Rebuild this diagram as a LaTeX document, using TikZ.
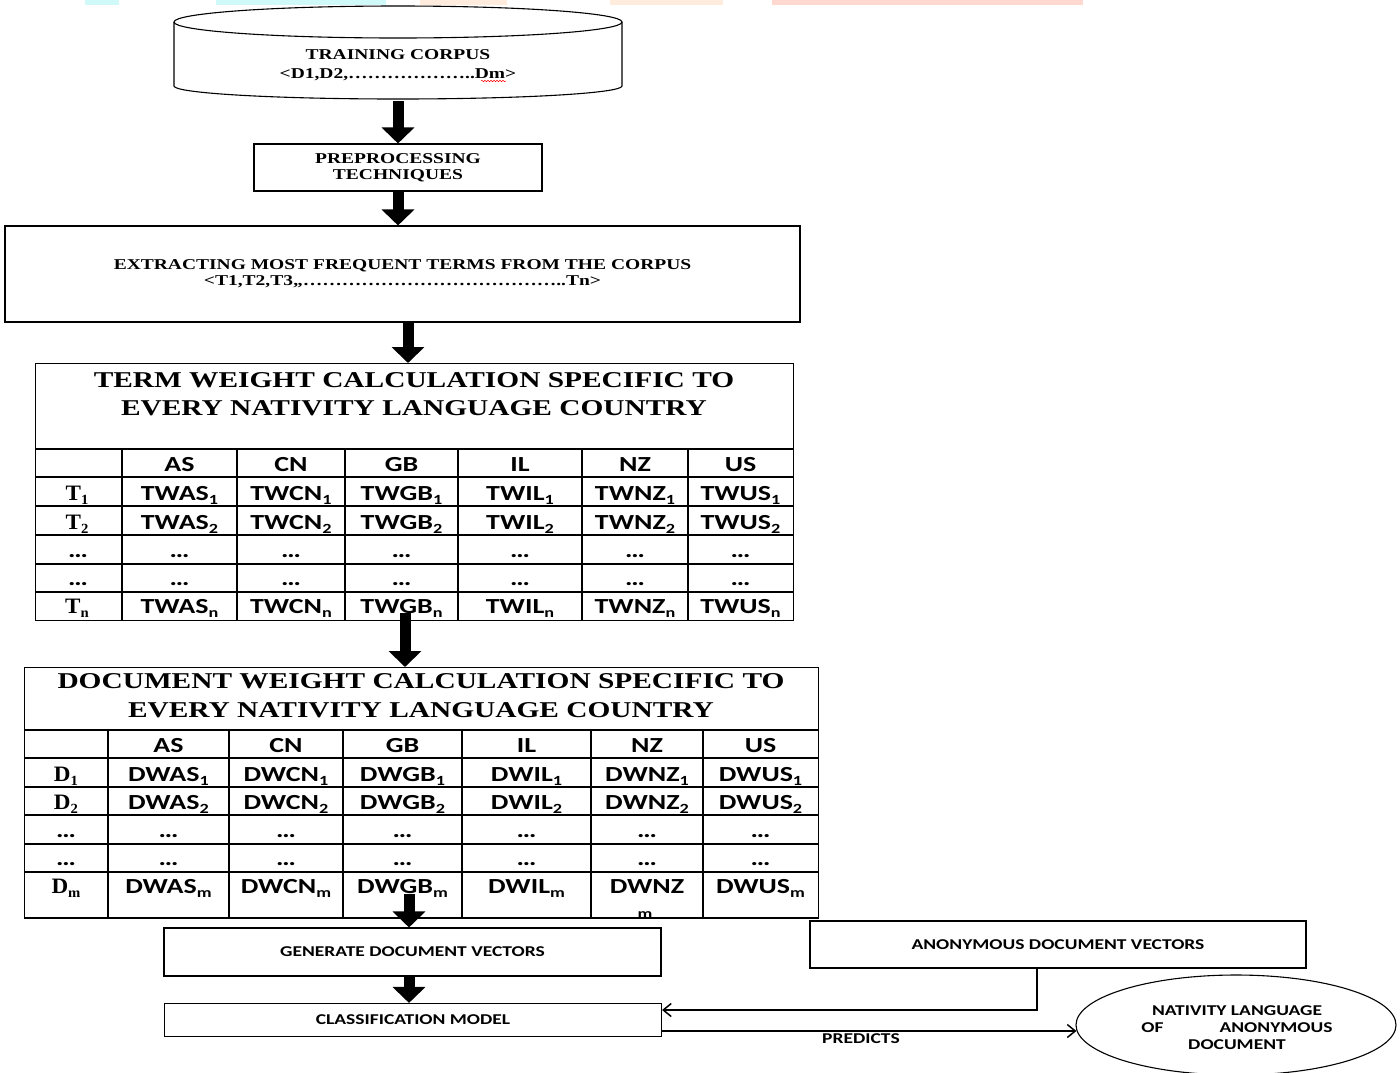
\documentclass[tikz,border=0pt]{standalone}
\usepackage{fontspec}
\setmainfont{Liberation Serif}[FakeStretch=1.3]
\newfontfamily\calf{Carlito}[FakeStretch=1.3]
\newfontfamily\rowf{Liberation Serif}[FakeStretch=1.05]
\usetikzlibrary{arrows.meta,shapes.geometric,decorations.pathmorphing,calc}
\definecolor{wmc}{RGB}{208,250,250}
\definecolor{wmp}{RGB}{255,236,220}
\definecolor{wmr}{RGB}{255,216,208}
\newcommand\sbs[1]{\raisebox{-4pt}{\fontsize{14}{14}\selectfont #1}}
\tikzset{
  box/.style={draw, line width=1.1pt, inner sep=0pt, rectangle, align=center},
  serif/.style={font=\bfseries\fontsize{15}{16}\selectfont},
  calibri/.style={font=\calf\bfseries\fontsize{15}{17}\selectfont},
  bigarrow/.style={line width=11pt, -{Triangle[width=32pt,length=16pt]}},
  conn/.style={line width=1.5pt},
  tline/.style={line width=1.1pt},
  cell/.style={font=\calf\bfseries\fontsize{21.5}{22}\selectfont, anchor=base, inner sep=0pt},
  rowlab/.style={font=\rowf\bfseries\fontsize{22}{22}\selectfont, anchor=base, inner sep=0pt},
  ttitle/.style={font=\bfseries\fontsize{22.6}{28}\selectfont, anchor=base, inner sep=0pt},
  plain/.style={anchor=base, inner sep=0pt},
}
\begin{document}
\begin{tikzpicture}[x=1pt,y=-1pt]
\useasboundingbox (0,0) rectangle (1400,1072);
% faint coloured bars along the top edge
\fill[wmc] (85,0) rectangle (119,5);
\fill[wmc] (216,0) rectangle (386,5);
\fill[wmp] (420,0) rectangle (507,5);
\fill[wmp] (610,0) rectangle (723,5);
\fill[wmr] (772,0) rectangle (1083,5);

% ---------- training corpus (cylinder)
\node (corpus) [minimum width=448pt, minimum height=95pt, inner sep=0pt] at (398,53.5) {};
\draw[line width=1.1pt] (398,22) ellipse [x radius=224pt, y radius=16pt];
\draw[line width=1.1pt] (174,22) -- (174,86) arc[start angle=180, end angle=360, x radius=224pt, y radius=13pt] -- (622,22);
\node (corpusA) [serif, plain] at (398,59) {TRAINING CORPUS};
\node (corpusB) [serif, plain] at (398,78) {<D1,D2,……………\ldots..Dm>};
\draw[red, line width=0.5pt, decorate, decoration={snake, amplitude=0.7pt, segment length=3pt}] (481,81) -- (506,81);

% ---------- preprocessing
\node (prep) [box, serif, minimum width=288pt, minimum height=47pt] at (398,167.5) {PREPROCESSING\\TECHNIQUES};

% ---------- extracting
\node (extract) [box, serif, minimum width=795pt, minimum height=96pt] at (402.5,274) {EXTRACTING MOST FREQUENT TERMS FROM THE CORPUS\\<T1,T2,T3,,…………………………………..Tn>};

% ---------- table 1
\node (tab1) [box, anchor=north west, minimum width=758pt, minimum height=257pt] at (35,363) {};
\foreach \y in {449,477,506,535,564,592} \draw[tline] (35,\y) -- (793,\y);
\foreach \x in {122,237,345,458,582,688} \draw[tline] (\x,449) -- (\x,620);
\node (t1titleA) [ttitle] at (414,387) {TERM WEIGHT CALCULATION SPECIFIC TO};
\node (t1titleB) [ttitle] at (414,415) {EVERY NATIVITY LANGUAGE COUNTRY};
\def\tcols{AS/179.5,CN/291,GB/401.5,IL/520,NZ/635,US/740.5}
\foreach \c/\x in \tcols \node (t1h\c) [cell] at (\x,471) {\c};
\foreach \r/\y in {1/500,2/529,n/613} {
  \node (t1r\r) [rowlab] at (77,\y) {T\sbs{\r}};
  \foreach \c/\x in \tcols \node (t1\c\r) [cell] at (\x,\y) {TW\c\sbs{\r}};
}
\foreach \y [count=\k] in {557,585} {
  \node (t1d\k) [cell] at (78,\y) {…};
  \foreach \c/\x in \tcols \node (t1d\k\c) [cell] at (\x,\y) {…};
}

% ---------- table 2
\node (tab2) [box, anchor=north west, minimum width=794pt, minimum height=251pt] at (24,667) {};
\foreach \y in {730,758,787,815,844,872} \draw[tline] (24,\y) -- (818,\y);
\foreach \x in {108,229,343,462,591,703} \draw[tline] (\x,730) -- (\x,918);
\node (t2titleA) [ttitle] at (421,688) {DOCUMENT WEIGHT CALCULATION SPECIFIC TO};
\node (t2titleB) [ttitle] at (421,717) {EVERY NATIVITY LANGUAGE COUNTRY};
\def\dcols{AS/168.5,CN/286,GB/402.5,IL/526.5,NZ/647,US/760.5}
\foreach \c/\x in \dcols \node (t2h\c) [cell] at (\x,752) {\c};
\foreach \r/\y in {1/781,2/809} {
  \node (t2r\r) [rowlab] at (66,\y) {D\sbs{\r}};
  \foreach \c/\x in \dcols \node (t2\c\r) [cell] at (\x,\y) {DW\c\sbs{\r}};
}
\foreach \y [count=\k] in {837,865} {
  \node (t2d\k) [cell] at (66,\y) {…};
  \foreach \c/\x in \dcols \node (t2d\k\c) [cell] at (\x,\y) {…};
}
\node (t2rm) [rowlab] at (66,893) {D\sbs{m}};
\foreach \c/\x in {AS/168.5,CN/286,GB/402.5,IL/526.5,US/760.5} \node (t2\c m) [cell] at (\x,893) {DW\c\sbs{m}};
\node (t2NZm) [cell] at (647,893) {DWNZ};
\node (t2NZmsub) [cell, font=\calf\bfseries\fontsize{14}{14}\selectfont] at (645,918) {m};
\draw[tline] (24,918) -- (818,918);

% ---------- bottom boxes
\node (gen) [box, calibri, minimum width=497pt, minimum height=48pt] at (412.5,952) {GENERATE DOCUMENT VECTORS};
\node (class) [box, calibri, minimum width=497pt, minimum height=33pt] at (413,1020) {CLASSIFICATION MODEL};
\node (anon) [box, calibri, minimum width=496pt, minimum height=47pt] at (1058,944.5) {ANONYMOUS DOCUMENT VECTORS};
\node (nat) [draw, ellipse, line width=1.1pt, minimum width=320pt, minimum height=100pt] at (1236,1025) {};
\node (natT) [calibri, align=center, inner sep=0pt] at (1237,1028)
  {NATIVITY LANGUAGE\\OF\hspace{56pt}ANONYMOUS\\DOCUMENT};

% ---------- block arrows
\coordinate (ax3) at (408,0);
\coordinate (ax4) at (405,0);
\coordinate (ax5) at (409,0);
\draw[bigarrow] (corpus.south) -- (prep.north);
\draw[bigarrow] (prep.south) -- (prep.south |- extract.north);
\draw[bigarrow] (extract.south -| ax3) -- (tab1.north -| ax3);
\draw[bigarrow] ($(tab1.south -| ax4)+(0,-8)$) -- (tab2.north -| ax4);
\draw[bigarrow] ($(tab2.south -| ax5)+(0,-25)$) -- (gen.north -| ax5);
\draw[bigarrow] (gen.south -| ax5) -- (class.north -| ax5);

% ---------- thin connectors
\coordinate (fbx) at (1037,0);
\draw[conn, -{Straight Barb[length=8pt,width=13pt]}] (anon.south -| fbx) |- ($(class.east)+(0,-10)$);
\draw[conn, -{Straight Barb[length=8pt,width=13pt]}] ($(class.east)+(0,11)$) -- ($(nat.west)+(1,6)$)
  node[pos=0.48, below=1pt, calibri, inner sep=1pt, name=pred] {PREDICTS};
\end{tikzpicture}
\end{document}
